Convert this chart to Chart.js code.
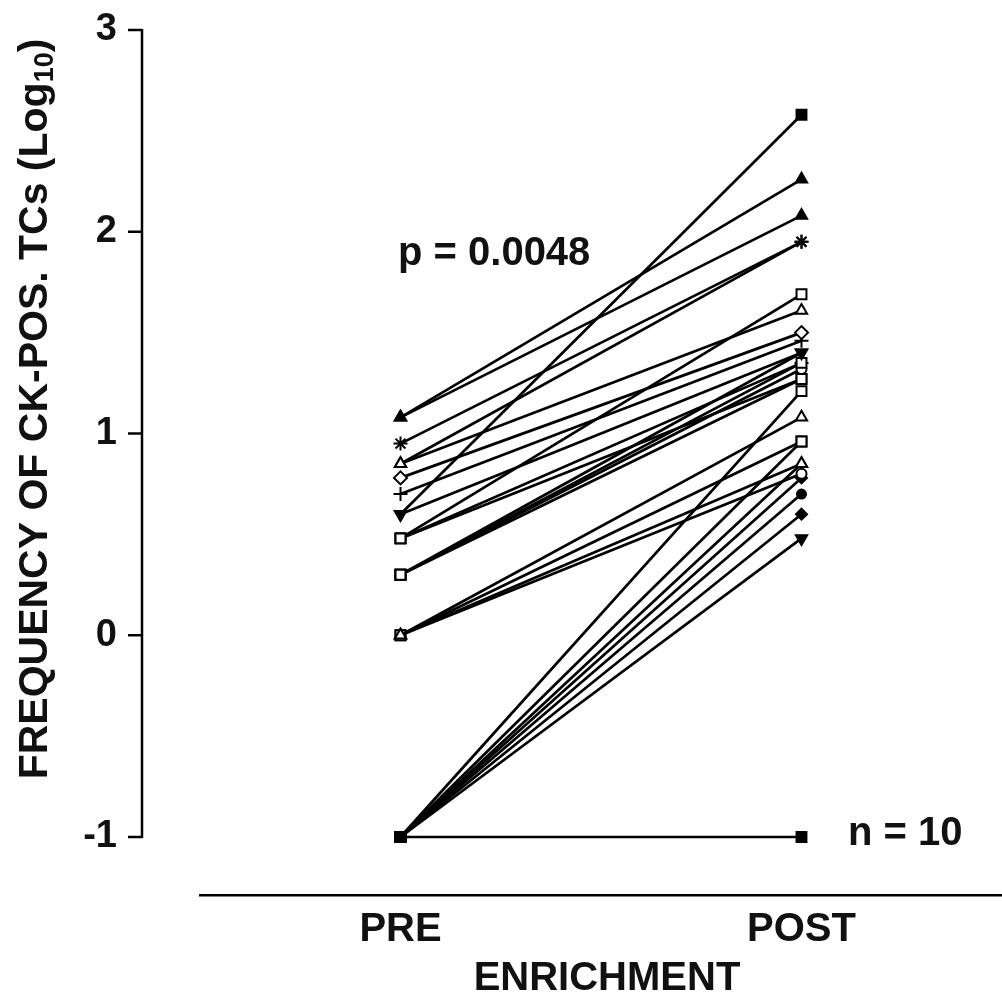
<!DOCTYPE html>
<html><head><meta charset="utf-8">
<script src="https://cdn.jsdelivr.net/npm/chart.js@4/dist/chart.umd.min.js"></script>
<style>html,body{margin:0;padding:0;background:#fff}canvas{display:block}</style>
</head><body>
<canvas id="c" width="1002" height="995"></canvas>
<script>
// ---- data ----
const categories = ['PRE', 'POST'];
const preValues  = [1.08, 1.08, 0.95, 0.85, 0.60, 0.48, 0.85, 0.78, 0.70, 0.60, 0.48, 0.30, 0.30, 0.30, 0.48, 0.30, 0, 0, 0, 0, -1, -1, -1, -1, -1, -1, -1, -1];
const postValues = [2.26, 2.08, 1.95, 1.95, 2.58, 1.69, 1.61, 1.50, 1.46, 1.40, 1.35, 1.32, 1.27, 1.40, 1.27, 1.35, 1.08, 0.96, 0.85, 0.80, 1.21, 0.96, 0.85, 0.78, 0.70, 0.60, 0.48, -1];
const preMarker  = ['triF','triF','star','triO','dtriF','sqO','triO','diaO','plus','dtriF','sqO','sqO','sqO','sqO','sqO','sqO','triO','sqO','triO','sqO','sqF','sqF','sqF','sqF','sqF','sqF','sqF','sqF'];
const postMarker = ['triF','triF','star','star','sqF','sqO','triO','diaO','plus','dtriF','sqO','cirO','sqO','dtriF','sqO','star','triO','sqO','triO','cirO','sqO','sqO','triO','diaF','cirF','diaF','dtriF','sqF'];
const yTickValues = [-1, 0, 1, 2, 3];
const yTitleMain = 'FREQUENCY OF CK-POS. TCs (Log';
const yTitleSub = '10';
const yTitleEnd = ')';
const xTitle = 'ENRICHMENT';
const pText = 'p = 0.0048';
const nText = 'n = 10';

// ---- marker styles ----
const kinds = {
  sqF:  {style:'rect', fill:true,  rot:0,   r:7},
  sqO:  {style:'rect', fill:false, rot:0,   r:7},
  triF: {style:'triangle', fill:true,  rot:0, r:6.5},
  triO: {style:'triangle', fill:false, rot:0, r:6.5},
  dtriF:{style:'triangle', fill:true,  rot:180, r:6.5},
  star: {style:'star', fill:false, rot:0, r:7},
  plus: {style:'cross', fill:false, rot:0, r:7},
  diaO: {style:'rectRot', fill:false, rot:0, r:6.5},
  diaF: {style:'rectRot', fill:true,  rot:0, r:5.5},
  cirO: {style:'circle', fill:false, rot:0, r:5},
  cirF: {style:'circle', fill:true,  rot:0, r:4.5}
};
const FONT = "'Liberation Sans', Arial, Helvetica, sans-serif";

const datasets = preValues.map((pre, i) => {
  const k = [kinds[preMarker[i]], kinds[postMarker[i]]];
  return {
    data: [pre, postValues[i]],
    borderColor: '#000',
    borderWidth: 2.7,
    tension: 0,
    fill: false,
    clip: false,
    pointStyle: k.map(m => m.style),
    pointRadius: k.map(m => m.r),
    pointRotation: k.map(m => m.rot),
    pointBackgroundColor: k.map(m => m.fill ? '#000' : '#fff'),
    pointBorderColor: '#000',
    pointBorderWidth: 2
  };
});

const decor = {
  id: 'decor',
  afterDraw(chart) {
    const ctx = chart.ctx, ys = chart.scales.y;
    ctx.save();
    ctx.strokeStyle = '#000';
    ctx.lineWidth = 2.5;
    const ax = 142;
    ctx.beginPath();
    ctx.moveTo(ax, ys.getPixelForValue(yTickValues[yTickValues.length - 1]) - 1);
    ctx.lineTo(ax, ys.getPixelForValue(yTickValues[0]) + 1);
    ctx.stroke();
    yTickValues.forEach(v => {
      const py = ys.getPixelForValue(v);
      ctx.beginPath(); ctx.moveTo(128, py); ctx.lineTo(ax, py); ctx.stroke();
    });
    ctx.fillStyle = '#111';
    // y title with subscript
    const big = 'bold 41px ' + FONT, small = 'bold 27px ' + FONT;
    ctx.font = big; const w1 = ctx.measureText(yTitleMain).width, w3 = ctx.measureText(yTitleEnd).width;
    ctx.font = small; const w2 = ctx.measureText(yTitleSub).width;
    const tot = w1 + w2 + w3;
    ctx.save();
    ctx.translate(47, 409);
    ctx.rotate(-Math.PI / 2);
    ctx.textBaseline = 'alphabetic'; ctx.textAlign = 'left';
    let x = -tot / 2;
    ctx.font = big; ctx.fillText(yTitleMain, x, 0); x += w1;
    ctx.font = small; ctx.fillText(yTitleSub, x, 6); x += w2;
    ctx.font = big; ctx.fillText(yTitleEnd, x, 0);
    ctx.restore();
    // annotations
    ctx.font = 'bold 40px ' + FONT;
    ctx.textAlign = 'left'; ctx.textBaseline = 'alphabetic';
    ctx.fillText(pText, 398, 265);
    ctx.fillText(nText, 848, 845);
    ctx.textAlign = 'center';
    ctx.fillText(xTitle, 607, 990);
    ctx.restore();
  }
};

new Chart(document.getElementById('c'), {
  type: 'line',
  data: { labels: categories, datasets },
  options: {
    responsive: false,
    animation: false,
    devicePixelRatio: 1,
    layout: { autoPadding: false, padding: { top: 30, left: 0, right: 0, bottom: 0 } },
    plugins: { legend: { display: false }, tooltip: { enabled: false } },
    scales: {
      x: {
        type: 'category',
        offset: true,
        grid: { display: false, drawTicks: false },
        border: { display: true, color: '#000', width: 2.5 },
        ticks: { color: '#111', font: { family: FONT, size: 40, weight: 'bold' }, padding: 11 },
        afterFit: s => { s.height = 100; s.paddingLeft = 0; s.paddingRight = 0; }
      },
      y: {
        min: -1.2875,
        max: 3,
        grid: { display: false, drawTicks: false },
        border: { display: false },
        afterBuildTicks: s => { s.ticks = yTickValues.map(v => ({ value: v })); },
        ticks: { color: '#111', font: { family: FONT, size: 38, weight: 'bold' }, padding: 83 },
        afterFit: s => { s.width = 200; s.paddingTop = 0; s.paddingBottom = 0; }
      }
    }
  },
  plugins: [decor]
});
</script>
</body></html>
